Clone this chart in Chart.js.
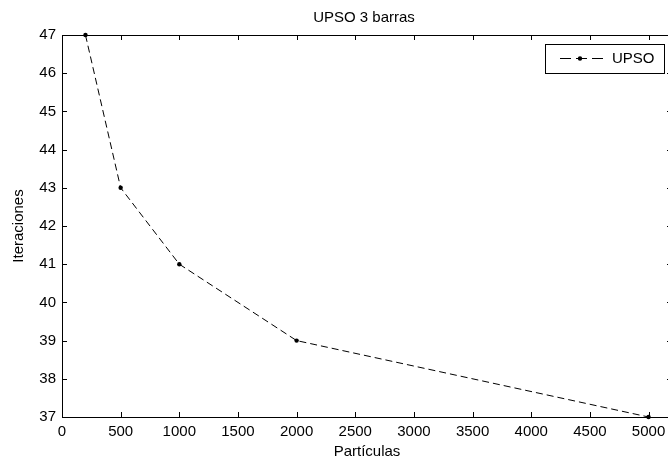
<!DOCTYPE html>
<html>
<head>
<meta charset="utf-8">
<script src="https://cdn.jsdelivr.net/npm/chart.js@4.4.0/dist/chart.umd.min.js"></script>
<style>
html, body { margin: 0; padding: 0; overflow: hidden; background: #fff; }
canvas { display: block; }
</style>
</head>
<body>
<canvas id="myChart" width="676" height="461"></canvas>
<script>
// data
const particulas = [200, 500, 1000, 2000, 5000]
const iteraciones = [47, 43, 41, 39, 37]
const xTicks = [0, 500, 1000, 1500, 2000, 2500, 3000, 3500, 4000, 4500, 5000]
const yTicks = [37, 38, 39, 40, 41, 42, 43, 44, 45, 46, 47]

const chartTitle = 'UPSO 3 barras'
const seriesName = 'UPSO'
const font = '"Liberation Sans", Arial, Helvetica, sans-serif'

// matlab style box: border all round, ticks pointing in, legend inside
const matlabBox = {
    id: 'matlabBox',
    afterDraw(chart) {
        const { ctx, chartArea: a, scales: { x, y } } = chart
        ctx.save()
        ctx.strokeStyle = '#000'
        ctx.lineWidth = 1
        ctx.setLineDash([])
        ctx.strokeRect(a.left + 0.5, a.top + 0.5, a.right - a.left, a.bottom - a.top)

        const tl = 5
        ctx.beginPath()
        xTicks.forEach(v => {
            const px = Math.round(x.getPixelForValue(v)) + 0.5
            ctx.moveTo(px, a.bottom); ctx.lineTo(px, a.bottom - tl)
            ctx.moveTo(px, a.top); ctx.lineTo(px, a.top + tl)
        })
        yTicks.forEach(v => {
            const py = Math.round(y.getPixelForValue(v)) + 0.5
            ctx.moveTo(a.left, py); ctx.lineTo(a.left + tl, py)
            ctx.moveTo(a.right, py); ctx.lineTo(a.right - tl, py)
        })
        ctx.stroke()

        // title
        ctx.fillStyle = '#000'
        ctx.font = '15px ' + font
        ctx.textAlign = 'center'
        ctx.textBaseline = 'middle'
        ctx.fillText(chartTitle, (a.left + a.right) / 2 - 3, 18)

        // legend
        const lx = a.right - 127, ly = a.top + 9, lw = 119, lh = 29
        ctx.fillStyle = '#fff'
        ctx.fillRect(lx, ly, lw, lh)
        ctx.strokeRect(lx + 0.5, ly + 0.5, lw, lh)
        const my = ly + 14.5
        ctx.beginPath()
        ctx.setLineDash([11, 5])
        ctx.moveTo(lx + 15, my); ctx.lineTo(lx + 61, my)
        ctx.stroke()
        ctx.setLineDash([])
        ctx.fillStyle = '#000'
        ctx.beginPath()
        ctx.arc(lx + 35, my, 2.2, 0, Math.PI * 2)
        ctx.fill()
        ctx.textAlign = 'left'
        ctx.fillText(seriesName, lx + 67, my)
        ctx.restore()
    }
}

const config = {
    type: 'scatter',
    data: {
        datasets: [{
            label: seriesName,
            data: particulas.map((p, i) => ({ x: p, y: iteraciones[i] })),
            showLine: true,
            borderColor: '#000',
            backgroundColor: '#000',
            borderWidth: 1,
            borderDash: [7, 4],
            pointRadius: 2.2,
            pointBorderWidth: 0,
            pointBackgroundColor: '#000',
            clip: false
        }]
    },
    options: {
        responsive: false,
        animation: false,
        layout: { padding: { top: 35, left: 0, right: 0, bottom: 0 } },
        plugins: {
            legend: { display: false },
            title: { display: false },
            tooltip: { enabled: false }
        },
        scales: {
            x: {
                type: 'linear',
                min: 0,
                max: 5200,
                afterBuildTicks: s => { s.ticks = xTicks.map(v => ({ value: v })) },
                afterFit: s => { s.height = 44 },
                grid: { display: false, drawTicks: false },
                border: { display: false },
                ticks: { color: '#000', padding: 6, font: { family: font, size: 15 }, maxRotation: 0, callback: v => String(v) },
                title: { display: true, text: 'Partículas', color: '#000', padding: 0, font: { family: font, size: 15 } }
            },
            y: {
                type: 'linear',
                min: 37,
                max: 47,
                afterBuildTicks: s => { s.ticks = yTicks.map(v => ({ value: v })) },
                afterFit: s => { s.width = 62 },
                grid: { display: false, drawTicks: false },
                border: { display: false },
                ticks: { color: '#000', padding: 6, font: { family: font, size: 15 }, callback: v => String(v) },
                title: { display: true, text: 'Iteraciones', color: '#000', padding: { top: 10, bottom: 0 }, font: { family: font, size: 15 } }
            }
        }
    },
    plugins: [matlabBox]
}

let myChart = new Chart(document.getElementById('myChart'), config)
</script>
</body>
</html>
